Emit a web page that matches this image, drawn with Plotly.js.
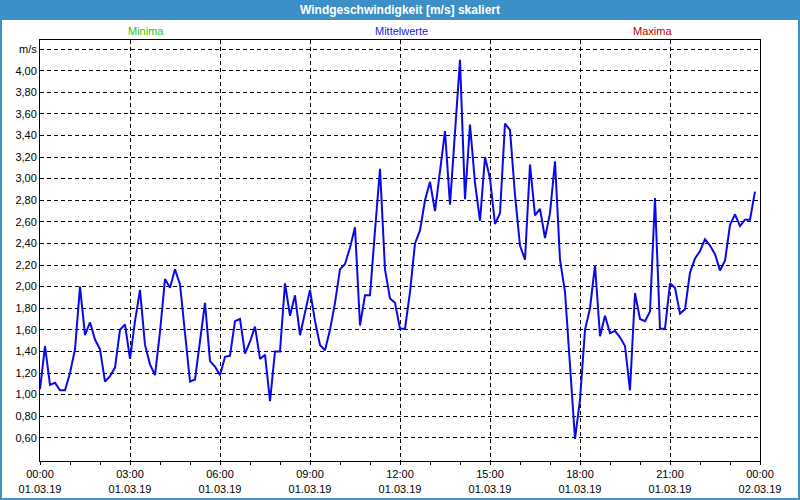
<!DOCTYPE html>
<html>
<head>
<meta charset="utf-8">
<script src="https://cdn.plot.ly/plotly-3.0.1.min.js"></script>
<style>
  html, body { margin: 0; padding: 0; background: #ffffff; }
  #chart { width: 800px; height: 500px; }
</style>
</head>
<body>
<div id="chart"></div>
<script>
// ---- Data (10-minute means, 01.03.19) ----
const dayStart = '2019-03-01';
const stepMinutes = 10;
const windMean = [
  1.05,1.45,1.09,1.11,1.04,1.04,1.20,1.42,2.00,1.55,
  1.67,1.51,1.42,1.12,1.17,1.25,1.60,1.65,1.33,1.68,
  1.97,1.46,1.28,1.18,1.58,2.07,1.99,2.16,2.02,1.55,
  1.12,1.14,1.48,1.85,1.31,1.26,1.18,1.35,1.36,1.68,
  1.70,1.38,1.49,1.63,1.33,1.37,0.94,1.40,1.40,2.03,
  1.73,1.92,1.55,1.77,1.97,1.68,1.46,1.41,1.60,1.85,
  2.16,2.21,2.36,2.55,1.64,1.92,1.92,2.52,3.09,2.16,
  1.89,1.85,1.61,1.61,1.95,2.40,2.52,2.80,2.97,2.70,
  3.08,3.44,2.76,3.45,4.10,2.81,3.50,2.96,2.61,3.20,
  3.00,2.58,2.68,3.51,3.45,2.85,2.38,2.25,3.13,2.66,
  2.72,2.45,2.68,3.16,2.25,1.95,1.30,0.59,0.95,1.60,
  1.80,2.20,1.54,1.73,1.57,1.59,1.53,1.45,1.04,1.94,
  1.70,1.68,1.77,2.82,1.61,1.61,2.03,1.99,1.75,1.79,
  2.13,2.26,2.33,2.44,2.38,2.30,2.15,2.24,2.57,2.67,
  2.56,2.62,2.62,2.88
];

const xTickVals = ['2019-03-01 00:00','2019-03-01 03:00','2019-03-01 06:00','2019-03-01 09:00',
                   '2019-03-01 12:00','2019-03-01 15:00','2019-03-01 18:00','2019-03-01 21:00',
                   '2019-03-02 00:00'];
const xTickText = ['00:00<br>01.03.19','03:00<br>01.03.19','06:00<br>01.03.19','09:00<br>01.03.19',
                   '12:00<br>01.03.19','15:00<br>01.03.19','18:00<br>01.03.19','21:00<br>01.03.19',
                   '00:00<br>02.03.19'];
const yTickVals = [0.6,0.8,1.0,1.2,1.4,1.6,1.8,2.0,2.2,2.4,2.6,2.8,3.0,3.2,3.4,3.6,3.8,4.0,4.2];
const yTickText = ['0,60','0,80','1,00','1,20','1,40','1,60','1,80','2,00','2,20','2,40',
                   '2,60','2,80','3,00','3,20','3,40','3,60','3,80','4,00','m/s'];
const legendNames = ['Minima','Mittelwerte','Maxima'];
const chartTitle = 'Windgeschwindigkeit [m/s] skaliert';

// ---- Build x timestamps ----
function pad(n){ return (n < 10 ? '0' : '') + n; }
const times = windMean.map((_, i) => {
  const m = i * stepMinutes;
  return dayStart + ' ' + pad(Math.floor(m / 60)) + ':' + pad(m % 60);
});

const FONT = '"Liberation Sans", Arial, sans-serif';

const trace = {
  x: times,
  y: windMean,
  type: 'scatter',
  mode: 'lines',
  name: legendNames[1],
  line: { color: '#0a0ae6', width: 2 },
  hoverinfo: 'skip',
  showlegend: false
};

// plot area: x 40..760, y 40..461
const L = 40, R = 40, T = 40, B = 39;
const PW = 800 - L - R, PH = 500 - T - B;
function px2xp(px){ return (px - L) / PW; }
function py2yp(py){ return 1 - (py - T) / PH; }

const layout = {
  width: 800, height: 500,
  margin: { l: L, r: R, t: T, b: B, pad: 0 },
  paper_bgcolor: '#ffffff',
  plot_bgcolor: '#ffffff',
  font: { family: FONT, size: 11, color: '#000000' },
  showlegend: false,
  title: {
    text: chartTitle,
    font: { family: FONT, size: 12, color: '#ffffff', weight: 'bold' },
    x: 0.5, xanchor: 'center',
    y: 1 - 10 / 500, yanchor: 'middle', yref: 'container'
  },
  xaxis: {
    type: 'date',
    range: ['2019-03-01 00:00', '2019-03-02 00:00'],
    tickmode: 'array',
    tickvals: xTickVals,
    ticktext: xTickText,
    ticks: 'outside', ticklen: 3, tickcolor: '#000000', tickwidth: 1,
    minor: { tickmode: 'linear', tick0: '2019-03-01 00:00', dtick: 3600000,
             ticks: 'outside', ticklen: 3, tickcolor: '#000000', showgrid: false },
    showgrid: true, gridcolor: '#000000', gridwidth: 1, griddash: '4px,3px',
    showline: true, linecolor: '#000000', linewidth: 1, mirror: true,
    zeroline: false, fixedrange: true,
    tickfont: { family: FONT, size: 11, color: '#000000' }
  },
  yaxis: {
    range: [0.385, 4.284],
    tickmode: 'array',
    tickvals: yTickVals,
    ticktext: yTickText,
    ticks: '',
    showgrid: true, gridcolor: '#000000', gridwidth: 1, griddash: '4px,3px',
    showline: true, linecolor: '#000000', linewidth: 1, mirror: true,
    zeroline: false, fixedrange: true,
    tickfont: { family: FONT, size: 11, color: '#000000' }
  },
  shapes: [
    { type: 'rect', xref: 'paper', yref: 'paper', layer: 'below',
      x0: px2xp(0), x1: px2xp(800), y0: py2yp(20), y1: py2yp(0),
      fillcolor: '#3d8fc8', line: { width: 0 } },
    { type: 'rect', xref: 'paper', yref: 'paper', layer: 'above',
      x0: px2xp(1), x1: px2xp(799), y0: py2yp(499), y1: py2yp(1),
      fillcolor: 'rgba(0,0,0,0)', line: { color: '#3d8fc8', width: 2 } }
  ],
  annotations: [
    { text: legendNames[0], xref: 'paper', yref: 'paper', x: px2xp(146), y: py2yp(31),
      xanchor: 'center', yanchor: 'middle', showarrow: false,
      font: { family: FONT, size: 11, color: '#2ec40a' } },
    { text: legendNames[1], xref: 'paper', yref: 'paper', x: px2xp(401), y: py2yp(31),
      xanchor: 'center', yanchor: 'middle', showarrow: false,
      font: { family: FONT, size: 11, color: '#1a1ae6' } },
    { text: legendNames[2], xref: 'paper', yref: 'paper', x: px2xp(652), y: py2yp(31),
      xanchor: 'center', yanchor: 'middle', showarrow: false,
      font: { family: FONT, size: 11, color: '#b80000' } }
  ]
};

Plotly.newPlot('chart', [trace], layout, { displayModeBar: false, staticPlot: true });
</script>
</body>
</html>
